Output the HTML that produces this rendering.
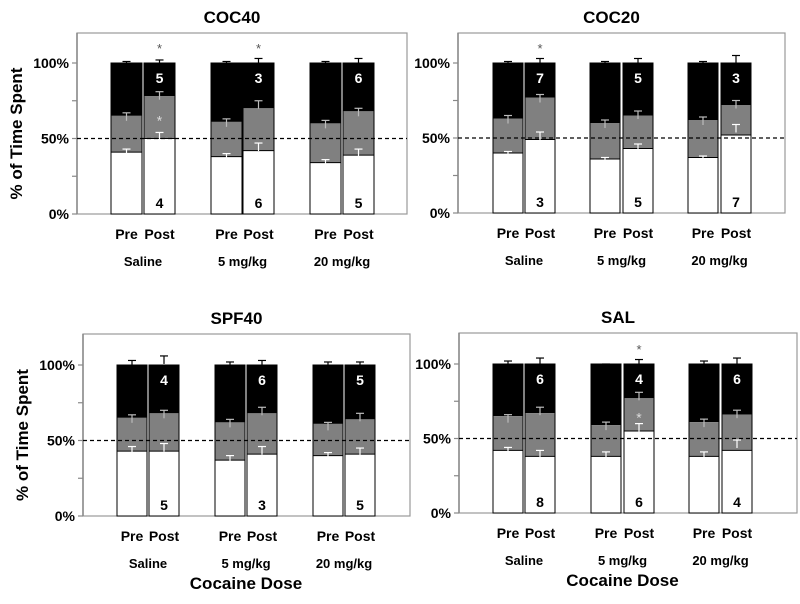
<!DOCTYPE html>
<html><head><meta charset="utf-8"><style>
body{margin:0;background:#fff;}
svg{display:block;font-family:"Liberation Sans",Arial,sans-serif;font-weight:bold;}
</style></head><body>
<svg id="chart" width="800" height="604" viewBox="0 0 800 604"></svg>
<script>
const panelTitles = ["COC40","COC20","SPF40","SAL"];
const groupLabels = ["Saline","5 mg/kg","20 mg/kg"];
const phaseLabels = ["Pre","Post"];
const yTicks = [0,50,100];
const yTickLabels = ["0%","50%","100%"];
// white (bottom) segment % per bar: Pre,Post x 3 groups
const whiteVals = [
  [41,50,38,42,34,39],
  [40,49,36,43,37,52],
  [43,43,37,41,40,41],
  [42,38,38,55,38,42]
];
// cumulative white+gray %
const grayCum = [
  [65,78,61,70,60,68],
  [63,77,60,65,62,72],
  [65,68,62,68,61,64],
  [65,67,59,77,61,66]
];
const whiteErr = [
  [2,4,2,5,2,4],
  [1,5,1,3,1,7],
  [3,5,3,5,2,4],
  [2,4,3,5,3,7]
];
const grayErr = [
  [2,3,2,5,2,2],
  [2,2,2,3,2,3],
  [2,2,2,4,1,4],
  [1,4,2,4,2,3]
];
const blackErr = [
  [1,2,1,3,1,3],
  [1,3,1,3,1,5],
  [3,6,2,3,2,2],
  [2,4,0,3,2,4]
];
const nBottom = [[4,6,5],[3,5,7],[5,3,5],[8,6,4]];
const nTop = [[5,3,6],[7,5,3],[4,6,5],[6,4,6]];
const starAbove = [[0,1],[0],[],[1]];
const starGray = [[0],[],[],[1]];

const panels = [
  {l:77,t:33,r:407,y0:214,y100:63,bars:[111,144,211,243,310,343],bw:31,ylab:true,xlab:false},
  {l:458,t:33,r:785,y0:213,y100:63,bars:[493,525,590,623,688,721],bw:30,ylab:false,xlab:false},
  {l:83,t:334,r:410,y0:516,y100:365,bars:[117,149,215,247,313,345],bw:30,ylab:true,xlab:true},
  {l:459,t:333,r:797,y0:513,y100:364,bars:[493,525,591,624,689,722],bw:30,ylab:false,xlab:true}
];
const svg = document.getElementById('chart');
const NS = "http://www.w3.org/2000/svg";
function mk(tag, attrs, parent, txt){
  const e = document.createElementNS(NS, tag);
  for (const k in attrs) e.setAttribute(k, attrs[k]);
  if (txt !== undefined) e.textContent = txt;
  (parent||svg).appendChild(e);
  return e;
}
function errBar(g, x, y, col){
  mk('line',{x1:x,y1:y,x2:x,y2:y+8,stroke:col,'stroke-width':1.2},g);
  mk('line',{x1:x-4,y1:y,x2:x+4,y2:y,stroke:col,'stroke-width':1.2},g);
}
panels.forEach((p, pi) => {
  const g = mk('g',{});
  
  
  const ys = v => p.y0 - (p.y0 - p.y100) * v / 100;
  const cx = (p.l + p.r) / 2;
  const title = mk('text',{x:cx - 10,y:p.t - 10,'text-anchor':'middle','font-size':17},g,panelTitles[pi]);
  
  
  const box = mk('rect',{x:p.l,y:p.t,width:p.r-p.l,height:p.y0-p.t,fill:'none',stroke:'#999','stroke-width':1.2},g);
  
  
  mk('line',{x1:p.l,y1:p.t,x2:p.l,y2:p.y0,stroke:'#888','stroke-width':1.5},g);
  [0,25,50,75,100].forEach(v => {
    mk('line',{x1:p.l-5,y1:ys(v),x2:p.l,y2:ys(v),stroke:'#888','stroke-width':1.2},g);
  });
  yTicks.forEach((v, i) => {
    const t = mk('text',{x:p.l-8,y:ys(v)+5,'text-anchor':'end','font-size':14},g,yTickLabels[i]);
    
    
  });
  if (p.ylab) {
    const yl = mk('text',{x:0,y:0,'text-anchor':'middle','font-size':17,transform:`translate(${p.l-55},${(p.t+p.y0)/2 + 10}) rotate(-90)`},g,'% of Time Spent');
    
    
  }
  p.bars.forEach((bx, bi) => {
    const w = whiteVals[pi][bi], c = grayCum[pi][bi];
    const mid = bx + p.bw / 2;
    const bg = mk('g',{},g);
    
    
    mk('rect',{x:bx,y:ys(100),width:p.bw,height:ys(c)-ys(100),fill:'#000'},bg);
    mk('rect',{x:bx,y:ys(c),width:p.bw,height:ys(w)-ys(c),fill:'#808080'},bg);
    mk('rect',{x:bx,y:ys(w),width:p.bw,height:p.y0-ys(w),fill:'#fff'},bg);
    mk('rect',{x:bx,y:ys(100),width:p.bw,height:p.y0-ys(100),fill:'none',stroke:'#000','stroke-width':1},bg);
    mk('line',{x1:bx,y1:ys(w),x2:bx+p.bw,y2:ys(w),stroke:'#000','stroke-width':1},bg);
    errBar(bg, mid, ys(w + whiteErr[pi][bi]), '#fff');
    errBar(bg, mid, ys(c + grayErr[pi][bi]), '#bbb');
    errBar(bg, mid, ys(100 + blackErr[pi][bi]), '#000');
    const ph = mk('text',{x:mid,y:p.y0+25,'text-anchor':'middle','font-size':14},g,phaseLabels[bi % 2]);
    
    
    if (bi % 2 === 1) {
      const gi = (bi - 1) / 2;
      const nb = mk('text',{x:mid,y:p.y0-6,'text-anchor':'middle','font-size':14},g,String(nBottom[pi][gi]));
      
      
      const nt = mk('text',{x:mid,y:ys(100)+20,'text-anchor':'middle','font-size':14,fill:'#fff'},g,String(nTop[pi][gi]));
      
      
      if (starAbove[pi].includes(gi)) {
        const s = mk('text',{x:mid,y:ys(100)-10,'text-anchor':'middle','font-size':13,'font-weight':'normal',fill:'#555'},g,'*');
        
        
      }
      if (starGray[pi].includes(gi)) {
        const s = mk('text',{x:mid,y:ys((w+c)/2)+8,'text-anchor':'middle','font-size':14,'font-weight':'normal',fill:'#ddd'},g,'*');
        
        
      }
    }
  });
  groupLabels.forEach((gl, gi) => {
    const x = (p.bars[gi*2] + p.bars[gi*2+1] + p.bw) / 2;
    const t = mk('text',{x:x,y:p.y0+52,'text-anchor':'middle','font-size':13},g,gl);
    
    
  });
  const ref = mk('line',{x1:p.l,y1:ys(50),x2:p.r,y2:ys(50),stroke:'#000','stroke-width':1.2,'stroke-dasharray':'4,3'},g);
  
  
  if (p.xlab) {
    const xt = mk('text',{x:(p.bars[0]+p.bars[5]+p.bw)/2,y:p.y0+73,'text-anchor':'middle','font-size':17},g,'Cocaine Dose');
    
    
  }
});
</script>
</body></html>
